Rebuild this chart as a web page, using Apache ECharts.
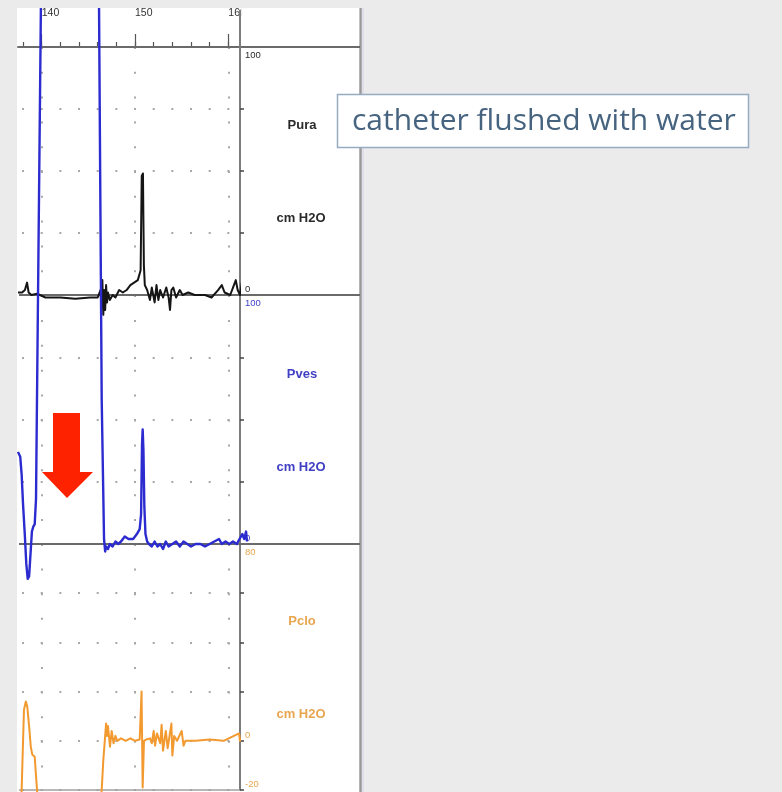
<!DOCTYPE html>
<html><head><meta charset="utf-8">
<script src="https://cdn.jsdelivr.net/npm/echarts@6/dist/echarts.min.js"></script>
<style>html,body{margin:0;padding:0;background:#ebebeb}#c{width:782px;height:792px}</style>
</head><body><div id="c"></div>
<script>
// ---------- data ----------
const xMin = 137.46, xMax = 161.25;
const xMajorTicks = [140, 150, 160];
const xMajorLabels = ['140', '150', '160'];
const xMinorTicks = [138, 140, 142, 144, 146, 148, 150, 152, 154, 156, 158, 160];

const channelNames = ['Pura', 'Pves', 'Pclo'];
const unitLabel = 'cm H2O';
const yMin = [0, 0, -20];
const yMax = [100, 100, 80];
const yStep = [25, 25, 20];
const yTopLabels = ['100', '100', '80'];
const yBottomLabels = ['0', '0', '-20'];
const annotationText = 'catheter flushed with water';

const tPura = [137.46,137.67,137.9,138.2,138.43,138.6,138.9,139.5,140.4,142.0,143.6,145.2,146.0,146.3,146.4,146.5,146.6,146.7,146.8,146.9,147.0,147.1,147.3,147.6,147.9,148.3,148.7,149.1,149.5,149.9,150.3,150.6,150.72,150.85,150.95,151.05,151.3,151.6,151.8,152.1,152.3,152.5,152.7,153.0,153.35,153.6,153.75,153.9,154.1,154.4,154.8,155.1,155.7,156.4,157.5,158.2,158.9,159.3,159.6,160.2,160.5,160.8,161.0,161.25,161.45,161.65,161.85,162.1];
const vPura = [1,0.5,1,2,5,1,0,0.5,-1,-1,-1.5,-1,-1,2,-5,6,-8,2,-6,4,-3,1,-2,0,-1,2,1,2,4,5,6,10,48,49,12,4,2,-2,3,-3,4,-2,2,-1,3,-1,-6,2,3,-1,2,0,1,0,0,-1,2,4,1,0,3,6,2,0,5,3,6,1];

const tPves = [137.46,137.6,137.7,137.85,138.0,138.2,138.35,138.5,138.65,138.8,138.95,139.1,139.25,139.39,139.6,139.92,140.1,145.9,146.14,146.43,146.68,146.8,146.9,147.1,147.3,147.6,147.9,148.2,148.5,148.9,149.3,149.8,150.2,150.5,150.65,150.75,150.82,150.9,151.0,151.12,151.3,151.5,151.8,152.1,152.4,152.7,153.0,153.3,153.6,154.0,154.4,154.8,155.2,155.6,156.0,156.5,157.0,157.5,158.0,158.5,159.0,159.3,159.7,160.1,160.5,160.9,161.2,161.5,161.7,161.9,162.0];
const vPves = [37,37,35,28,16,3,-8,-14,-13,-4,5,7,8,18,98,218,320,320,218,58,2,-3,-1,-2,0,-1,1,0,1,3,2,2,4,6,12,40,46,38,15,4,1,0,-1,1,-1,0,-2,1,-1,0,1,-1,1,0,-1,0,0,-1,0,1,2,0,1,0,1,0,2,4,2,5,1];

const tPclo = [137.46,137.85,138.1,138.3,138.45,138.65,138.83,139.0,139.25,139.35,139.5,139.7,146.0,146.43,146.6,146.9,147.0,147.1,147.32,147.5,147.7,147.9,148.1,148.5,149.0,149.5,150.0,150.5,150.7,150.82,150.96,151.2,151.6,151.8,152.0,152.15,152.35,152.7,152.85,153.0,153.3,153.5,153.9,154.0,154.2,154.5,155.0,155.2,155.4,156.5,158.0,159.5,160.6,161.15,161.25,161.5];
const vPclo = [-35,-20,12.6,16,14,6,-2.4,-5.7,-6.5,-12,-20,-35,-35,-20,-8,7,2,6,-2.4,4,-1,2,0,1,0,1,0,0.5,20,-19,0,0.5,1,-1,4,-2,3,-1,6.5,-4,4,-3,7,-6,2,0,4,-2,0,0,0.5,0,2,3,0,1];

const traceT = [tPura, tPves, tPclo];
const traceV = [vPura, vPves, vPclo];

// ---------- styles / layout ----------
const traceColors = ['#151515', '#2b2bd0', '#f29a30'];
const labelColors = ['#2a2a2a', '#4040c4', '#e8a650'];
const gridTop = [47, 295, 544];
const gridH = [248, 249, 246];
const LEFT = 18, AXISX = 240, PANEL_TOP = 8, TRACE_RIGHT = 250, CANVAS_H = 792;
const pxPerX = (AXISX - LEFT) / (xMax - xMin);
const minorPx = 2 * pxPerX;
const firstMinorPx = (138 - xMin) * pxPerX;

const grids = [], xAxes = [], yAxes = [], series = [];
for (let i = 0; i < 3; i++) {
  grids.push({left: LEFT, right: 782 - AXISX, top: gridTop[i], height: gridH[i], outerBoundsMode: 'none', containLabel: false});
  const pxPerY = gridH[i] / (yMax[i] - yMin[i]);
  const dotY = 10 * pxPerY;
  xAxes.push({
    type: 'value', gridIndex: i, min: xMin, max: xMax, position: 'top',
    axisLine: {show: i === 0, onZero: false, lineStyle: {color: '#6e6e6e', width: 2}},
    axisTick: {show: i === 0, customValues: xMajorTicks, length: 13, lineStyle: {color: '#555', width: 1.2}},
    axisLabel: {show: i === 0, customValues: xMajorTicks, align: 'left', margin: 28, fontSize: 10.5,
      fontFamily: 'Liberation Sans', color: '#333',
      formatter: v => xMajorLabels[xMajorTicks.indexOf(v)] || ''},
    splitLine: {show: true, lineStyle: {color: '#a8a8a8', width: 2, type: [2, dotY - 2]}}
  });
  const rich = {
    t: {padding: [17, 0, 0, 0], fontSize: 9.5, color: labelColors[i], fontFamily: 'Liberation Sans'},
    b: {padding: [0, 0, 11, 0], fontSize: 9.5, color: labelColors[i], fontFamily: 'Liberation Sans'}
  };
  yAxes.push({
    type: 'value', gridIndex: i, min: yMin[i], max: yMax[i], interval: yStep[i], position: 'right',
    axisLine: {show: true, onZero: false, lineStyle: {color: '#7c7c7c', width: 2}},
    axisTick: {show: true, length: 4, lineStyle: {color: '#444', width: 1.5}},
    axisLabel: {show: true, margin: 5, formatter: v => {
      if (v === yMax[i]) return '{t|' + yTopLabels[i] + '}';
      if (v === yMin[i]) return '{b|' + yBottomLabels[i] + '}';
      if (v === 0) return '{b|0}';
      return '';
    }, rich},
    splitLine: {show: true, lineStyle: {color: '#a8a8a8', width: 2, type: [2, minorPx - 2], dashOffset: minorPx - firstMinorPx + 1}}
  });
}

// grid 3: tall helper grid sharing the Pves scale (same px per unit), from the panel top to the canvas bottom
const pvesPxPerUnit = gridH[1] / (yMax[1] - yMin[1]);
const pvesZeroY = gridTop[1] + gridH[1];
grids.push({left: LEFT, right: 782 - TRACE_RIGHT, top: PANEL_TOP, height: CANVAS_H - PANEL_TOP, outerBoundsMode: 'none', containLabel: false});
xAxes.push({type: 'value', gridIndex: 3, show: false, min: xMin, max: xMin + (TRACE_RIGHT - LEFT) / pxPerX,
  axisLine: {onZero: false}});
yAxes.push({type: 'value', gridIndex: 3, show: false,
  min: yMin[1] - (CANVAS_H - pvesZeroY) / pvesPxPerUnit,
  max: yMin[1] + (pvesZeroY - PANEL_TOP) / pvesPxPerUnit, axisLine: {onZero: false}});

// grid 4: carries the minor ticks of the top time axis
grids.push({left: LEFT, right: 782 - AXISX, top: gridTop[0], height: gridH[0], outerBoundsMode: 'none', containLabel: false});
xAxes.push({
  type: 'value', gridIndex: 4, min: xMin, max: xMax, position: 'top',
  axisLine: {show: false, onZero: false}, axisLabel: {show: false}, splitLine: {show: false},
  axisTick: {show: true, customValues: xMinorTicks, length: 5, lineStyle: {color: '#555', width: 1.2}}
});
yAxes.push({type: 'value', gridIndex: 4, show: false, min: 0, max: 100, axisLine: {onZero: false}});

series.push({
  type: 'line', xAxisIndex: 0, yAxisIndex: 0, clip: false, showSymbol: false, symbol: 'none', z: 3,
  lineStyle: {color: traceColors[0], width: 2, join: 'round'},
  data: traceT[0].map((t, k) => [t, traceV[0][k]])
});
series.push({
  type: 'line', xAxisIndex: 3, yAxisIndex: 3, clip: true, showSymbol: false, symbol: 'none', z: 4,
  lineStyle: {color: traceColors[1], width: 2.4, join: 'round'},
  data: traceT[1].map((t, k) => [t, traceV[1][k]])
});
series.push({
  type: 'line', xAxisIndex: 2, yAxisIndex: 2, clip: false, showSymbol: false, symbol: 'none', z: 3,
  lineStyle: {color: traceColors[2], width: 2, join: 'round'},
  data: traceT[2].map((t, k) => [t, traceV[2][k]])
});

const G = [];
G.push({type: 'rect', z: -10, shape: {x: 17, y: 8, width: 343, height: 784}, style: {fill: '#ffffff'}});
G.push({type: 'rect', z: 50, shape: {x: 0, y: 0, width: 782, height: 8}, style: {fill: '#ebebeb'}});
G.push({type: 'rect', z: 50, shape: {x: 241.2, y: 8, width: 118, height: 37}, style: {fill: '#ffffff'}});
G.push({type: 'line', z: 51, shape: {x1: 240, y1: 10, x2: 240, y2: 48}, style: {stroke: '#7c7c7c', lineWidth: 2}});
G.push({type: 'line', z: 1, shape: {x1: 360.5, y1: 8, x2: 360.5, y2: 792}, style: {stroke: '#9a9a9a', lineWidth: 2.5}});
G.push({type: 'line', z: 1, shape: {x1: 363, y1: 8, x2: 363, y2: 792}, style: {stroke: '#dcdcea', lineWidth: 1.5}});
[47, 295, 544].forEach(y => G.push({type: 'line', z: 1, shape: {x1: 19, y1: y, x2: 360, y2: y}, style: {stroke: '#6a6a6a', lineWidth: 2}}));
G.push({type: 'line', z: 1, shape: {x1: 19, y1: 790, x2: 240, y2: 790}, style: {stroke: '#a0a0a0', lineWidth: 1.5}});
// channel labels
const nameY = [125, 374, 621], unitY = [218, 467, 714];
for (let i = 0; i < 3; i++) {
  G.push({type: 'text', z: 10, style: {text: channelNames[i], x: 302, y: nameY[i], align: 'center', verticalAlign: 'middle',
    font: 'bold 13px "Liberation Sans"', fill: labelColors[i]}});
  G.push({type: 'text', z: 10, style: {text: unitLabel, x: 301, y: unitY[i], align: 'center', verticalAlign: 'middle',
    font: 'bold 13px "Liberation Sans"', fill: labelColors[i]}});
}
// annotation box
G.push({type: 'rect', z: 20, shape: {x: 337.5, y: 94.5, width: 411, height: 53}, style: {fill: '#ffffff', stroke: '#94abc2', lineWidth: 1.5}});
G.push({type: 'text', z: 21, style: {text: annotationText, x: 352, y: 121, align: 'left', verticalAlign: 'middle',
  font: '30px "Open Sans"', fill: '#46647f'}});
// red arrow
G.push({type: 'polygon', z: 20, shape: {points: [[53, 413], [80, 413], [80, 472], [93, 472], [67, 498], [42, 472], [53, 472]]},
  style: {fill: '#ff2200'}});

const chart = echarts.init(document.getElementById('c'), null, {renderer: 'canvas', width: 782, height: 792});
chart.setOption({
  animation: false,
  backgroundColor: '#ebebeb',
  grid: grids, xAxis: xAxes, yAxis: yAxes, series: series,
  graphic: {elements: G}
});
</script></body></html>
